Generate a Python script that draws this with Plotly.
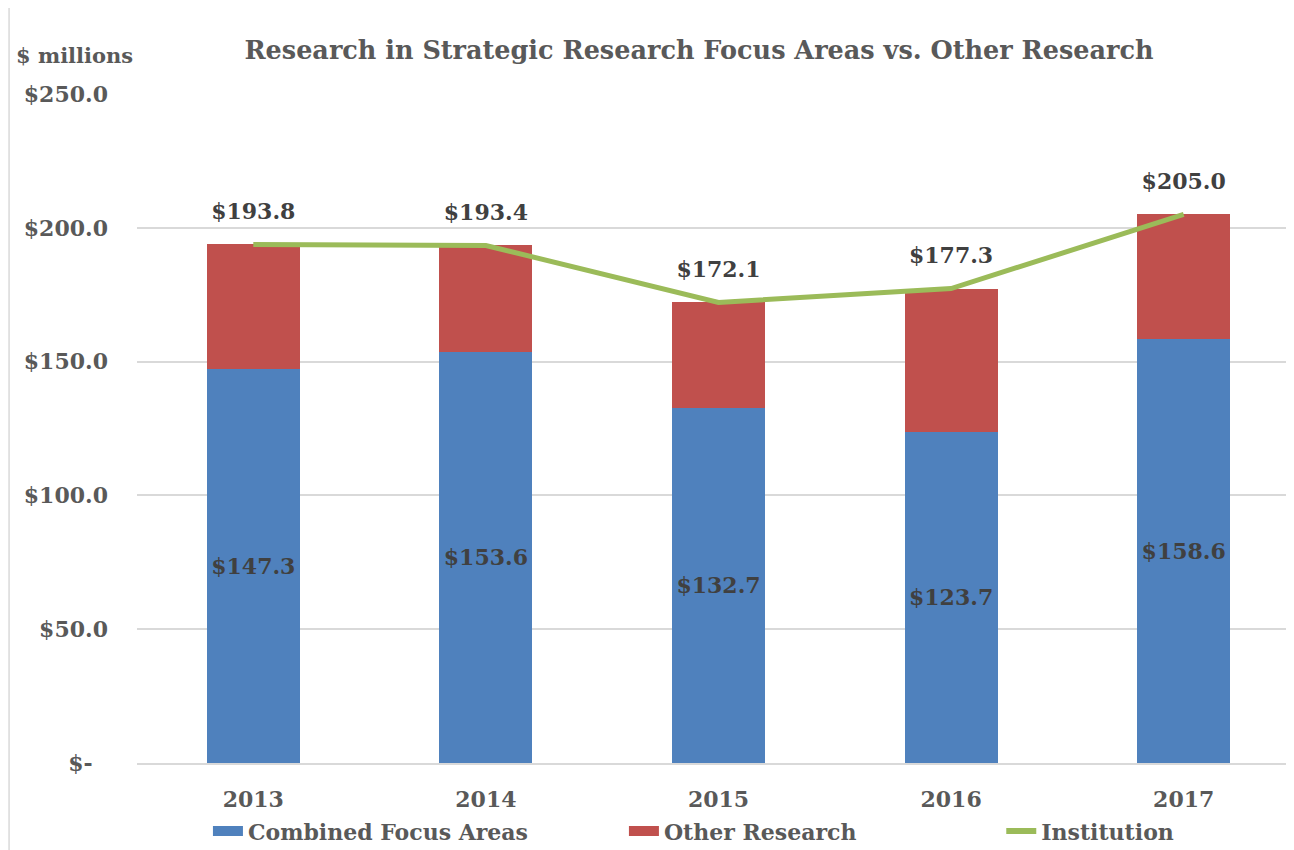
import plotly.graph_objects as go

years = ["2013", "2014", "2015", "2016", "2017"]
combined = [147.3, 153.6, 132.7, 123.7, 158.6]
institution = [193.8, 193.4, 172.1, 177.3, 205.0]
other = [round(t - c, 1) for t, c in zip(institution, combined)]
tick_vals = [0, 50, 100, 150, 200, 250]
tick_text = ["$-\u00a0\u00a0", "$50.0", "$100.0", "$150.0", "$200.0", "$250.0"]

FONT = "DejaVu Serif"
GREY = "#595959"
DARK = "#404040"
BLUE, RED, GREEN = "#4F81BD", "#C0504D", "#9BBB59"
NB = "\u00a0"

fig = go.Figure()
fig.add_trace(go.Bar(
    x=years, y=combined, name="Combined Focus Areas", showlegend=False,
    marker=dict(color=BLUE, line=dict(width=0)),
    text=[f"${v:.1f}" for v in combined], textposition="inside",
    insidetextanchor="middle", texttemplate="<b>%{text}</b>",
    textfont=dict(family=FONT, size=22, color=DARK),
    textangle=0,
))
fig.add_trace(go.Bar(
    x=years, y=other, name="Other Research", showlegend=False,
    marker=dict(color=RED, line=dict(width=0)),
))
fig.add_trace(go.Scatter(
    x=years, y=institution, name="Institution", mode="lines", showlegend=False,
    line=dict(color=GREEN, width=5),
))
fig.add_trace(go.Scatter(
    x=years, y=institution, mode="markers+text", showlegend=False,
    marker=dict(size=30, opacity=0),
    text=[f"<b>${v:.1f}</b>" for v in institution], textposition="top center",
    textfont=dict(family=FONT, size=22, color=DARK), hoverinfo="skip",
))
# legend entries
fig.add_trace(go.Scatter(x=[None], y=[None], mode="lines", line=dict(color=BLUE, width=20),
                         name="<b>Combined Focus Areas</b>" + NB * 13))
fig.add_trace(go.Scatter(x=[None], y=[None], mode="lines", line=dict(color=RED, width=20),
                         name="<b>Other Research</b>" + NB * 20))
fig.add_trace(go.Scatter(x=[None], y=[None], mode="lines", line=dict(color=GREEN, width=6),
                         name="<b>Institution</b>"))

fig.add_annotation(xref="paper", yref="paper", x=-0.106, y=1.057, xanchor="left",
                   yanchor="middle",
                   text="<b>$ millions</b>", showarrow=False,
                   font=dict(family=FONT, size=21, color=GREY))

fig.add_shape(type="rect", xref="paper", yref="paper", x0=-0.11, x1=1.2, y0=-0.3, y1=1.3,
              line=dict(color="#D9D9D9", width=1.5), layer="below")

fig.update_layout(
    width=1294, height=850,
    barmode="stack", bargap=0.6,
    margin=dict(l=129, r=2, t=86, b=95),
    paper_bgcolor="white", plot_bgcolor="white",
    title=dict(text="<b>Research in Strategic Research Focus Areas vs. Other Research</b>",
               x=0.534, xanchor="center", y=0.951, yanchor="middle",
               font=dict(family=FONT, size=25.5, color=GREY)),
    font=dict(family=FONT, color=GREY),
    uniformtext=dict(minsize=8, mode="show"),
    legend=dict(orientation="h", x=0.061, xanchor="left", y=-0.102, yanchor="middle",
                font=dict(family=FONT, size=22, color=GREY),
                traceorder="normal", itemwidth=30, tracegroupgap=0),
    xaxis=dict(type="category", range=[-0.5, 4.5],
               tickvals=years, ticktext=[f"<b>{y}</b>" for y in years],
               tickfont=dict(family=FONT, size=22, color=GREY), showline=True,
               linecolor="#D9D9D9", linewidth=1.5, ticks="", ticklabelstandoff=16),
    yaxis=dict(range=[0, 250], tickvals=tick_vals,
               ticktext=[f"<b>{t}</b>" for t in tick_text],
               tickfont=dict(family=FONT, size=22, color=GREY),
               gridcolor="#D9D9D9", gridwidth=1.5, zeroline=False,
               ticklabelstandoff=28),
)
fig.write_html("out.html")
